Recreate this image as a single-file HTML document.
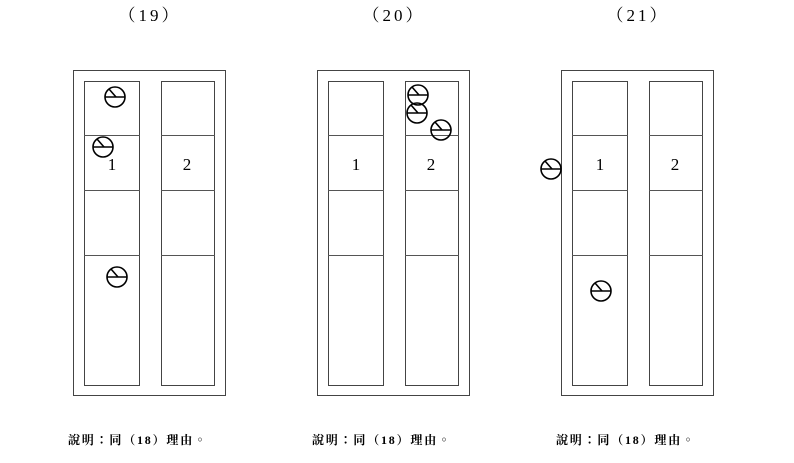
<!DOCTYPE html>
<html><head><meta charset="utf-8"><style>
body{margin:0;background:#fff;width:794px;height:458px;overflow:hidden}
</style></head><body>
<svg width="794" height="458" xmlns="http://www.w3.org/2000/svg">
<defs>
<g id="sym"><circle r="10" fill="none" stroke="#000" stroke-width="1.6"/><line x1="-10" y1="0" x2="10" y2="0" stroke="#000" stroke-width="1.6"/><line x1="-6" y1="-8" x2="1" y2="0" stroke="#000" stroke-width="1.6"/></g>
<g id="cab">
<rect x="73.5" y="70.5" width="152" height="325" fill="none" stroke="#444" stroke-width="1"/>
<rect x="84.5" y="81.5" width="55" height="304" fill="none" stroke="#444" stroke-width="1"/>
<rect x="161.5" y="81.5" width="53" height="304" fill="none" stroke="#444" stroke-width="1"/>
<path d="M84 135.5H140M161 135.5H215M84 190.5H140M161 190.5H215M84 255.5H140M161 255.5H215" stroke="#555" stroke-width="1"/>
<text x="112" y="170" font-family="Liberation Serif, serif" font-size="17" text-anchor="middle">1</text>
<text x="187" y="170" font-family="Liberation Serif, serif" font-size="17" text-anchor="middle">2</text>
</g>
</defs>
<g font-family="Liberation Serif, 'Noto Serif CJK SC', serif" font-size="17" text-anchor="middle" letter-spacing="3">
<text x="150" y="21">（19）</text><text x="394" y="21">（20）</text><text x="638" y="21">（21）</text>
</g>
<use href="#cab"/>
<use href="#cab" transform="translate(244,0)"/>
<use href="#cab" transform="translate(488,0)"/>
<use href="#sym" transform="translate(115,97)"/>
<use href="#sym" transform="translate(103,147)"/>
<use href="#sym" transform="translate(117,277)"/>
<use href="#sym" transform="translate(418,95)"/>
<use href="#sym" transform="translate(417,113)"/>
<use href="#sym" transform="translate(441,130)"/>
<use href="#sym" transform="translate(551,169)"/>
<use href="#sym" transform="translate(601,291)"/>
<g font-family="Liberation Serif, 'Noto Serif CJK TC', serif" font-size="12" font-weight="bold" letter-spacing="1.8">
<text x="68" y="444">說明：同（18）理由。</text>
<text x="312" y="444">說明：同（18）理由。</text>
<text x="556" y="444">說明：同（18）理由。</text>
</g>
</svg>
</body></html>
